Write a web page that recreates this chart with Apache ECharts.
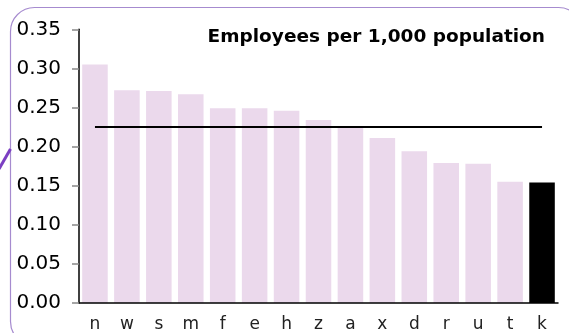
<!DOCTYPE html>
<html>
<head>
<meta charset="utf-8">
<script src="https://cdn.jsdelivr.net/npm/echarts@6/dist/echarts.min.js"></script>
<style>
  html, body { margin: 0; padding: 0; background: #ffffff; }
  #chart { width: 569px; height: 333px; }
</style>
</head>
<body>
<div id="chart"></div>
<script>
// Employees per 1,000 population, by area (sorted, highlighted area last)
const categories = ['n', 'w', 's', 'm', 'f', 'e', 'h', 'z', 'a', 'x', 'd', 'r', 'u', 't', 'k'];
const employeesPer1000 = [0.305, 0.272, 0.271, 0.267, 0.249, 0.249, 0.246, 0.234, 0.224, 0.211, 0.194, 0.179, 0.178, 0.155, 0.154];
const highlighted = 'k';
const averageLevel = 0.226;
const yTicks = { min: 0, max: 0.35, step: 0.05 };
const chartTitle = 'Employees per 1,000 population';

const barColor = '#ebd9ec';
const highlightColor = '#000000';

const chart = echarts.init(document.getElementById('chart'), null, { renderer: 'canvas' });

const option = {
  backgroundColor: '#ffffff',
  animation: false,
  title: {
    text: chartTitle,
    right: 19,
    top: 23,
    textStyle: {
      fontFamily: 'DejaVu Sans',
      fontWeight: 'bold',
      fontSize: 18.5,
      color: '#000000'
    }
  },
  grid: { left: 79, right: 11, top: 29.3, bottom: 29.3, containLabel: false },
  xAxis: {
    type: 'category',
    data: categories,
    z: 5,
    axisLine: { show: true, lineStyle: { color: '#000000', width: 1.5 } },
    axisTick: { show: false },
    axisLabel: {
      margin: 13,
      fontFamily: 'DejaVu Sans',
      fontSize: 17,
      color: '#222222'
    }
  },
  yAxis: {
    type: 'value',
    min: yTicks.min,
    max: yTicks.max,
    interval: yTicks.step,
    z: 5,
    splitLine: { show: false },
    axisLine: { show: true, lineStyle: { color: '#000000', width: 1.5 } },
    axisTick: { show: true, length: 7, lineStyle: { color: '#888888', width: 1.5 } },
    axisLabel: {
      margin: 18,
      fontFamily: 'DejaVu Sans',
      fontSize: 20,
      color: '#000000',
      formatter: v => v.toFixed(2)
    }
  },
  series: [
    {
      type: 'bar',
      barCategoryGap: '20%',
      data: employeesPer1000.map((v, i) => ({
        value: v,
        itemStyle: { color: categories[i] === highlighted ? highlightColor : barColor }
      })),
      markLine: {
        silent: true,
        symbol: ['none', 'none'],
        label: { show: false },
        lineStyle: { color: '#000000', width: 2.2, type: 'solid' },
        data: [[
          { coord: [categories[0], averageLevel] },
          { coord: [categories[categories.length - 1], averageLevel] }
        ]]
      }
    }
  ],
  graphic: [
    {
      type: 'rect',
      silent: true,
      shape: { x: 10.5, y: 7.5, width: 572, height: 338, r: 24 },
      style: { fill: 'none', stroke: '#a68bcf', lineWidth: 1.2 }
    },
    {
      type: 'line',
      silent: true,
      shape: { x1: -1, y1: 169, x2: 10.5, y2: 149 },
      style: { stroke: '#7b3fc2', lineWidth: 3 }
    }
  ]
};

chart.setOption(option);
</script>
</body>
</html>
